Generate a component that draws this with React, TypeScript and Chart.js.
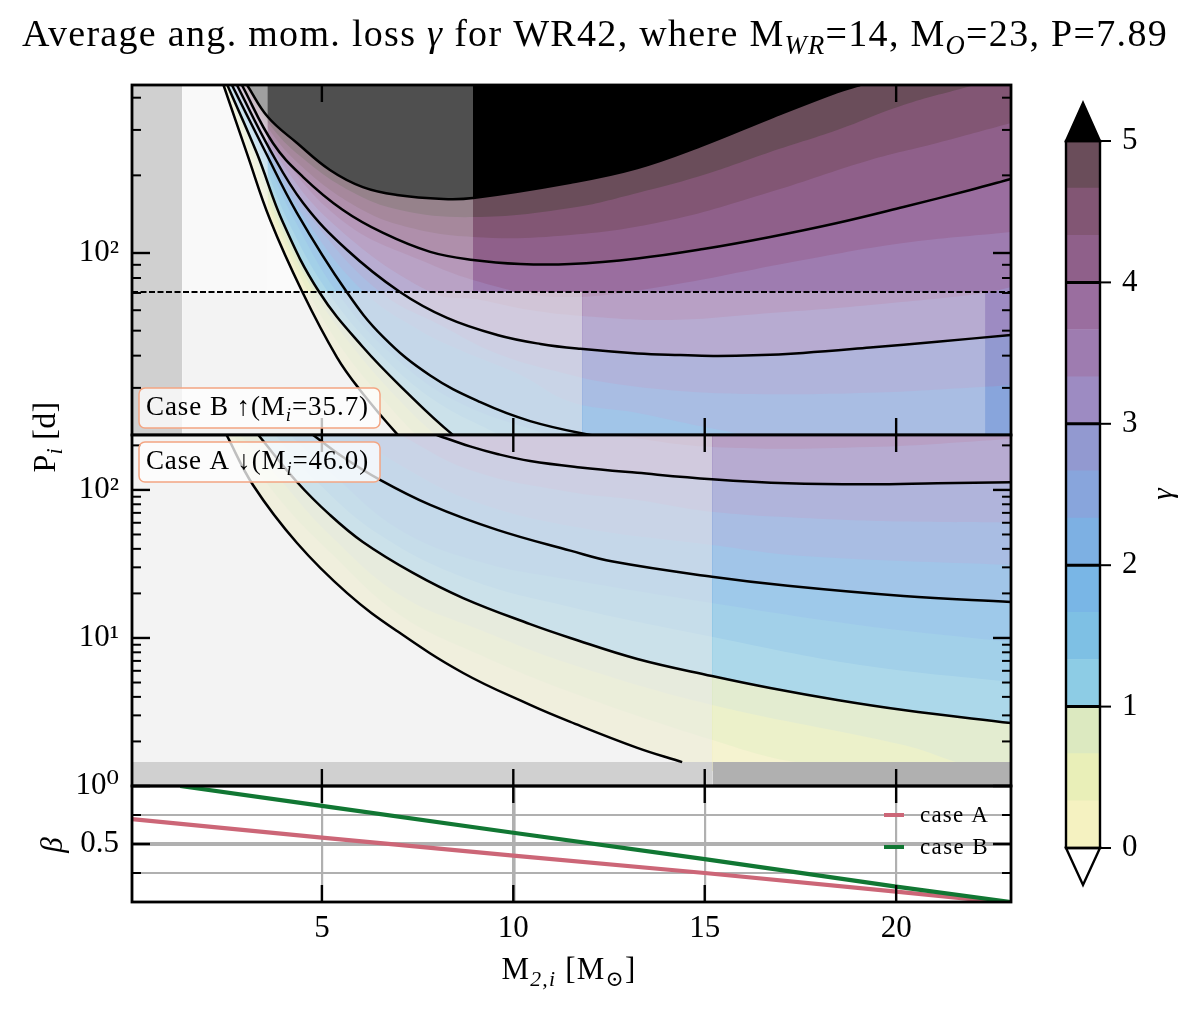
import React, { useEffect, useRef } from 'react';
import { Chart, registerables } from 'chart.js';

Chart.register(...registerables);

type Pt = number[];
type Seg = { t: string; i?: boolean; sub?: boolean };

const W = 1200;
const H = 1009;
const SERIF = '"Liberation Serif", "DejaVu Serif", serif';

const xMin = 0.04;
const xMax = 23;
const xMajor = [5, 10, 15, 20];

// top panel: [M2, P] along each gamma level, one level every third of a unit
const topL0: Pt[] = [[2.43, 448], [3.04, 244], [3.65, 134.2], [4.49, 70.6], [5.39, 39.5], [6.0, 29.4], [6.96, 19.9], [8.35, 12], [23, 3]];
const topL1: Pt[] = [[2.46, 448], [3.12, 244], [3.8, 130.7], [4.64, 70.6], [5.55, 42.1], [6.62, 26.9], [7.43, 19.9], [9, 12], [23, 3.5]];
const topL2: Pt[] = [[2.5, 448], [3.2, 244], [3.88, 130.7], [4.8, 70.6], [5.87, 42.1], [7.02, 26.9], [7.93, 19.9], [10, 11], [23, 4]];
const topL3: Pt[] = [[2.53, 448], [3.3, 244], [3.99, 130.7], [4.93, 70.6], [6.07, 43.2], [7.23, 28.7], [8.39, 19.9], [9.66, 14.4], [23, 5]];
const topL4: Pt[] = [[2.57, 448], [3.38, 244], [4.14, 130.7], [5.16, 70.6], [6.42, 42.1], [7.93, 26.9], [9.58, 19.9], [12, 13], [23, 6]];
const topL5: Pt[] = [[2.6, 448], [3.46, 244], [4.33, 130.7], [5.39, 70.6], [6.7, 42.1], [8.45, 26.9], [10.83, 19.9], [14, 14], [23, 8]];
const topL6: Pt[] = [[2.65, 448], [3.46, 257.6], [4.35, 142.9], [5.65, 70.6], [6.6, 47.3], [7.83, 33.5], [9.14, 26.4], [10.44, 22.3], [12.01, 19.7], [13.6, 18], [23, 12]];
const topL7: Pt[] = [[2.68, 448], [3.59, 244], [4.64, 130.7], [6.1, 70.6], [7.57, 50], [8.61, 42.1], [10.18, 33.7], [11.49, 26.5], [13.24, 24], [14.96, 21.2], [15.85, 19.9], [16.71, 18], [23, 15]];
const topL8: Pt[] = [[2.72, 448], [3.65, 244], [4.82, 130.7], [6.52, 70.6], [8.09, 52.6], [9.66, 40.3], [11.49, 33.7], [12.35, 31.6], [14.1, 29.4], [16.27, 28.4], [19.32, 28.7], [22.33, 30.3], [23, 30.8]];
const topL9: Pt[] = [[2.78, 448], [3.65, 250.7], [4.51, 156.3], [5.66, 102.7], [7.04, 70.6], [8.27, 56], [9.58, 48.1], [10.71, 44.4], [11.75, 42.5], [13.24, 40.8], [14.36, 40.2], [15.22, 39.9], [16.27, 40.1], [17.57, 41], [19.32, 43], [21.07, 45.3], [23, 48.1]];
const topL10: Pt[] = [[2.8, 448], [3.78, 244], [5.27, 130.7], [7.83, 70.6], [9.14, 65.8], [10.44, 60.1], [11.8, 57], [14.1, 55], [16.71, 58.5], [19.32, 62.9], [22.33, 70], [23, 73.8]];
const topL11: Pt[] = [[2.84, 448], [3.9, 244], [5.61, 130.7], [7.57, 93.9], [9.4, 75.2], [11.22, 67.5], [13.66, 73.2], [17.57, 93.9], [20.19, 109.3], [23, 120.6]];
const topL12: Pt[] = [[2.91, 448], [3.72, 267], [4.51, 197], [5.55, 146.8], [6.6, 119.6], [7.83, 101], [8.95, 93.9], [10.18, 90.6], [11.49, 90.6], [13.24, 95.2], [14.96, 103.6], [16.71, 115.4], [18.46, 130.7], [20.19, 150.8], [21.94, 175.5], [23, 193.6]];
const topL13: Pt[] = [[2.95, 448], [3.65, 297], [4.43, 219.4], [5.74, 156.3], [7.04, 128.4], [8.95, 115.4], [11.49, 117.4], [14.1, 134.2], [16.71, 172.3], [19.32, 229.4], [21.07, 267], [23, 319]];
const topL14: Pt[] = [[2.99, 448], [3.65, 313], [4.43, 237.7], [5.74, 173.9], [7.04, 146.8], [8.95, 137.8], [11.49, 149.4], [13.24, 170.9], [14.96, 200.6], [16.71, 246.4], [18.46, 299.7], [20.19, 374.7], [21.86, 440], [23, 490]];
const topL15: Pt[] = [[3.045, 448], [3.59, 336.6], [4.35, 267], [5.21, 209.8], [6.07, 180], [6.96, 167.8], [8.17, 162], [8.95, 163.4], [11.49, 187.3], [13.24, 213.5], [14.96, 262], [16.71, 333.6], [18.46, 420.7], [19.06, 448]];
const topLevels = [topL0, topL1, topL2, topL3, topL4, topL5, topL6, topL7, topL8, topL9, topL10, topL11, topL12, topL13, topL14, topL15];
const topContours = [topL0, topL3, topL6, topL9, topL12, topL15];
const splitPeriod = 70.6;

// middle panel, same idea
const midL0: Pt[] = [[2.51, 235], [3.2, 108], [4.35, 43.8], [5.66, 20.1], [6.96, 11.15], [8.69, 5.8], [10.44, 3.53], [11.49, 2.71], [13.24, 1.81], [14.41, 1.45]];
const midL0Tail: Pt[] = [[18, 0.8], [23, 0.5]];
const midL1: Pt[] = [[2.68, 235], [3.91, 85.6], [5.21, 38.1], [7.04, 14.3], [9.14, 7.67], [11.49, 4.32], [15.19, 2.05], [17.36, 1.45], [23, 1]];
const midL2: Pt[] = [[2.86, 235], [3.91, 116.9], [5.21, 49.6], [7.04, 19.5], [9.14, 11.3], [11.49, 6.67], [15.19, 3.53], [20.19, 1.89], [21.55, 1.45], [23, 1.1]];
const midL3: Pt[] = [[3.34, 235], [4.35, 113.2], [5.21, 67.8], [6.07, 44.5], [7.38, 27.5], [8.69, 18.6], [10.44, 12.4], [11.49, 10], [13.24, 7.21], [15.19, 5.53], [16.71, 4.59], [18.46, 3.81], [20.19, 3.26], [23, 2.66]];
const midL4: Pt[] = [[3.78, 235], [4.82, 116.9], [6.52, 49.6], [8.87, 24.7], [11.49, 16.2], [15.19, 10.2], [19.06, 6.57], [23, 5.04]];
const midL5: Pt[] = [[4.17, 235], [5.21, 132.3], [7.04, 53.7], [9.14, 32.6], [11.49, 24.7], [15.19, 17.2], [19.06, 12.2], [23, 9.4]];
const midL6: Pt[] = [[4.77, 235], [5.55, 167], [6.52, 116.9], [7.83, 79.2], [9.58, 53.7], [11.49, 38.9], [12.6, 32.8], [15.19, 25.9], [17.17, 22.5], [20.19, 19.2], [23, 17.5]];
const midL7: Pt[] = [[5.87, 235], [7.04, 147.6], [8.87, 85.6], [11.49, 57.1], [15.19, 42.5], [17.57, 35.8], [23, 31.1]];
const midL8: Pt[] = [[7.04, 235], [8.87, 136.5], [11.49, 96.9], [13.24, 85.6], [15.19, 71.3], [17.57, 64.7], [20.19, 61.1], [23, 60.1]];
const midL9: Pt[] = [[8.0, 235], [8.87, 196.8], [9.58, 175], [10.44, 157], [11.75, 142], [13.24, 130.4], [15.19, 118.1], [17.17, 110.9], [19.32, 109.2], [21.07, 110.9], [23, 112.7]];
const midL10: Pt[] = [[12.6, 235], [15.19, 195], [19.32, 195], [23, 221]];
const midLevels = [[...midL0, ...midL0Tail], midL1, midL2, midL3, midL4, midL5, midL6, midL7, midL8, midL9, midL10];
const midContours = [midL0, midL3, midL6, midL9];

// bottom panel
const caseA: Pt[] = [[0.04, 0.715], [5, 0.555], [10, 0.4], [15, 0.25], [20, 0.09], [22.7, 0]];
const caseB: Pt[] = [[1.3, 1], [5, 0.828], [10, 0.597], [15, 0.37], [20, 0.132], [23, 0]];

// colorbar
const gammaLevels = [0, 0.333, 0.667, 1, 1.333, 1.667, 2, 2.333, 2.667, 3, 3.333, 3.667, 4, 4.333, 4.667, 5];
const gammaTicks = [0, 1, 2, 3, 4, 5];
const gammaLines = [1, 2, 3, 4];
const bandColors = ['#f5f2c1', '#e9efb8', '#dce9c0', '#8dcce5', '#7ec0e4', '#79b6e6', '#7db0e3', '#88a5dc', '#9299d0', '#9d8bc2', '#9e7cb0', '#9a6e9f', '#8f608a', '#825674', '#6a4d5a', '#000000'];

// translucent/grey boxes [x0, x1, Pbottom, Ptop, colour]
const topShades: [number, number, number, number, string][] = [
  [xMin, 1.35, 19.7, 448, '#d0d0d0'],
  [1.35, 3.59, 70.6, 448, 'rgba(246,246,246,0.65)'],
  [3.59, 8.95, 70.6, 448, 'rgba(240,240,240,0.33)'],
  [1.35, 11.8, 19.7, 70.6, 'rgba(237,237,237,0.65)'],
  [11.8, 22.33, 19.7, 70.6, 'rgba(245,245,245,0.3)'],
];
const midShades: [number, number, number, number, string][] = [
  [xMin, 15.2, 1, 235, 'rgba(237,237,237,0.65)'],
  [15.2, 23, 1, 235, 'rgba(245,245,245,0.3)'],
  [xMin, 15.2, 1, 1.45, '#d0d0d0'],
  [15.2, 23, 1, 1.45, '#b0b0b0'],
];

const topMinor = [30, 40, 50, 60, 70, 80, 90, 200, 300, 400];
const midMinor = [2, 3, 4, 5, 6, 7, 8, 9, 20, 30, 40, 50, 60, 70, 80, 90, 200];
const powerLabels: Record<number, string> = { 1: '10⁰', 10: '10¹', 100: '10²' };

const toXY = (pts: Pt[]) => pts.map(([x, y]) => ({ x, y }));

function drawRich(ctx: CanvasRenderingContext2D, segs: Seg[], x: number, y: number, size: number, opt: { width?: number; rotate?: number; center?: boolean } = {}) {
  const fontOf = (s: Seg) => `${s.i ? 'italic ' : ''}${s.sub ? size * 0.7 : size}px ${SERIF}`;
  ctx.save();
  ctx.translate(x, y);
  if (opt.rotate) ctx.rotate(opt.rotate);
  ctx.fillStyle = '#000';
  ctx.textAlign = 'left';
  ctx.textBaseline = 'alphabetic';
  let natural = 0;
  let chars = 0;
  segs.forEach((s) => {
    ctx.font = fontOf(s);
    natural += ctx.measureText(s.t).width;
    chars += s.t.length;
  });
  const gap = opt.width ? (opt.width - natural) / chars : 0;
  (ctx as any).letterSpacing = `${gap}px`;
  const total = natural + gap * chars;
  let cur = opt.center ? -total / 2 : 0;
  segs.forEach((s) => {
    ctx.font = fontOf(s);
    ctx.fillText(s.t, cur, s.sub ? size * 0.22 : 0);
    cur += ctx.measureText(s.t).width;
  });
  ctx.restore();
}

const contourBase = { pointRadius: 0, tension: 0.4, capBezierPoints: false };

function contourDatasets(levels: Pt[][], contours: Pt[][], shades: [number, number, number, number, string][]) {
  // Chart.js puts lower order on top, so count down as we stack things up
  let order = 1000;
  const sets: any[] = [];
  levels.forEach((pts, k) => {
    sets.push({ ...contourBase, data: toXY(pts), borderWidth: 0, fill: 'end', backgroundColor: bandColors[k], order: order-- });
  });
  shades.forEach(([x0, x1, lo, hi, color]) => {
    sets.push({ data: [{ x: x0, y: hi }, { x: x1, y: hi }], pointRadius: 0, borderWidth: 0, fill: { value: lo }, backgroundColor: color, order: order-- });
  });
  contours.forEach((pts) => {
    sets.push({ ...contourBase, data: toXY(pts), borderColor: '#000', borderWidth: 2.5, fill: false, order: order-- });
  });
  return sets;
}

function drawTicks(chart: any, yMajor: number[], yMinor: number[]) {
  const { ctx, chartArea: a, scales } = chart;
  ctx.save();
  ctx.strokeStyle = '#000';
  const line = (x0: number, y0: number, x1: number, y1: number, w: number) => {
    ctx.lineWidth = w;
    ctx.beginPath();
    ctx.moveTo(x0, y0);
    ctx.lineTo(x1, y1);
    ctx.stroke();
  };
  xMajor.forEach((v) => {
    const px = scales.x.getPixelForValue(v);
    line(px, a.top, px, a.top + 17, 2.4);
    line(px, a.bottom, px, a.bottom - 17, 2.4);
  });
  yMajor.forEach((v) => {
    const py = scales.y.getPixelForValue(v);
    line(a.left, py, a.left + 18, py, 2.4);
    line(a.right, py, a.right - 18, py, 2.4);
  });
  yMinor.forEach((v) => {
    const py = scales.y.getPixelForValue(v);
    line(a.left, py, a.left + 9, py, 2);
    line(a.right, py, a.right - 9, py, 2);
  });
  ctx.restore();
}

function drawNote(chart: any, segs: Seg[], top: number, textWidth: number) {
  const { ctx, chartArea: a } = chart;
  const bx = a.left + 7;
  ctx.save();
  ctx.beginPath();
  ctx.roundRect(bx, top, 241, 40, 6);
  ctx.fillStyle = 'rgba(255,255,255,0.75)';
  ctx.fill();
  ctx.strokeStyle = '#f4a582';
  ctx.lineWidth = 1.5;
  ctx.stroke();
  ctx.restore();
  drawRich(ctx, segs, bx + 7, top + 27, 27, { width: textWidth });
}

function drawFrame(chart: any) {
  const { ctx, chartArea: a } = chart;
  ctx.save();
  ctx.strokeStyle = '#000';
  ctx.lineWidth = 2.8;
  ctx.strokeRect(a.left, a.top, a.right - a.left, a.bottom - a.top);
  ctx.restore();
}

const hiddenX = { type: 'linear' as const, display: false, min: xMin, max: xMax };

function logAxis(min: number, max: number, major: number[]) {
  return {
    type: 'logarithmic' as const,
    min,
    max,
    grid: { display: false, drawTicks: false },
    border: { display: false },
    afterBuildTicks: (s: any) => { s.ticks = major.map((value) => ({ value })); },
    afterFit: (s: any) => { s.width = 60; },
    ticks: { autoSkip: false, padding: 13, font: { size: 31 }, callback: (v: any) => powerLabels[v] ?? '' },
  };
}

const baseOptions = {
  responsive: false,
  animation: false as const,
  events: [] as any[],
};
const noPlugins = { legend: { display: false }, tooltip: { enabled: false }, title: { display: false } };

const topConfig: any = {
  type: 'line',
  data: {
    datasets: [
      ...contourDatasets(topLevels, topContours, topShades),
      { data: [{ x: xMin, y: splitPeriod }, { x: xMax, y: splitPeriod }], borderColor: '#000', borderWidth: 2, borderDash: [6, 2.5], pointRadius: 0, fill: false, order: 1 },
    ],
  },
  options: {
    ...baseOptions,
    layout: { padding: { left: 72, top: 85, right: W - 1011, bottom: H - 435 } },
    plugins: noPlugins,
    scales: { x: hiddenX, y: logAxis(19.7, 448, [100]) },
  },
  plugins: [{
    id: 'topDecor',
    afterDatasetsDraw(chart: any) {
      drawTicks(chart, [100], topMinor);
      drawNote(chart, [{ t: 'Case B ↑(M' }, { t: 'i', i: true, sub: true }, { t: '=35.7)' }], 388, 223);
      drawFrame(chart);
      drawRich(chart.ctx, [
        { t: 'Average ang. mom. loss ' }, { t: 'γ', i: true }, { t: ' for WR42, where M' }, { t: 'WR', i: true, sub: true },
        { t: '=14, M' }, { t: 'O', i: true, sub: true }, { t: '=23, P=7.89' },
      ], 22, 46, 38, { width: 1146 });
      drawRich(chart.ctx, [{ t: 'P' }, { t: 'i', i: true, sub: true }, { t: ' [d]' }], 55, 437, 32, { rotate: -Math.PI / 2, center: true, width: 71 });
    },
  }],
};

const midConfig: any = {
  type: 'line',
  data: { datasets: contourDatasets(midLevels, midContours, midShades) },
  options: {
    ...baseOptions,
    layout: { padding: { left: 72, top: 435, right: W - 1011, bottom: H - 786 } },
    plugins: noPlugins,
    scales: { x: hiddenX, y: logAxis(1, 235, [1, 10, 100]) },
  },
  plugins: [{
    id: 'midDecor',
    afterDatasetsDraw(chart: any) {
      drawTicks(chart, [1, 10, 100], midMinor);
      drawNote(chart, [{ t: 'Case A ↓(M' }, { t: 'i', i: true, sub: true }, { t: '=46.0)' }], 442, 223);
      drawFrame(chart);
    },
  }],
};

const GRID_GREY = '#b0b0b0';
const betaMajor = [0.25, 0.5, 0.75];

const betaConfig: any = {
  type: 'line',
  data: {
    datasets: [
      { label: 'case A', data: toXY(caseA), borderColor: '#cc6677', borderWidth: 4.2, pointRadius: 0, fill: false, order: 2 },
      { label: 'case B', data: toXY(caseB), borderColor: '#117733', borderWidth: 4.2, pointRadius: 0, fill: false, order: 1 },
    ],
  },
  options: {
    ...baseOptions,
    layout: { padding: { left: 72, top: 786, right: W - 1011, bottom: H - 902 - 60 } },
    plugins: noPlugins,
    scales: {
      x: {
        type: 'linear',
        min: xMin,
        max: xMax,
        grid: { drawTicks: false, color: GRID_GREY, lineWidth: (c: any) => (c.tick?.value === 10 ? 3.6 : 2.2) },
        border: { display: false },
        afterBuildTicks: (s: any) => { s.ticks = xMajor.map((value) => ({ value })); },
        afterFit: (s: any) => { s.height = 60; },
        ticks: { autoSkip: false, maxRotation: 0, padding: 8, font: { size: 31 }, color: '#000' },
      },
      y: {
        min: 0,
        max: 1,
        grid: { drawTicks: false, color: GRID_GREY, lineWidth: (c: any) => (c.tick?.value === 0.5 ? 4 : 2) },
        border: { display: false },
        afterBuildTicks: (s: any) => { s.ticks = betaMajor.map((value) => ({ value })); },
        afterFit: (s: any) => { s.width = 60; },
        ticks: { autoSkip: false, padding: 13, font: { size: 31 }, color: '#000', callback: (v: any) => (v === 0.5 ? '0.5' : '') },
      },
    },
  },
  plugins: [{
    id: 'betaDecor',
    afterDatasetsDraw(chart: any) {
      const { ctx, chartArea: a } = chart;
      drawTicks(chart, [0.5], [0.25, 0.75]);
      chart.data.datasets.forEach((ds: any, i: number) => {
        const ly = a.top + 29 + i * 32;
        ctx.save();
        ctx.strokeStyle = ds.borderColor;
        ctx.lineWidth = 4;
        ctx.beginPath();
        ctx.moveTo(a.right - 127, ly);
        ctx.lineTo(a.right - 107, ly);
        ctx.stroke();
        ctx.restore();
        drawRich(ctx, [{ t: ds.label }], a.right - 91, ly + 7, 23, { width: 69 });
      });
      drawFrame(chart);
      drawRich(ctx, [{ t: 'β', i: true }], 62, 845, 31, { rotate: -Math.PI / 2, center: true });
      drawRich(ctx, [{ t: 'M' }, { t: '2,i', i: true, sub: true }, { t: ' [M' }, { t: '⊙', sub: true }, { t: ']' }], 569, 979, 31, { center: true, width: 135 });
    },
  }],
};

const barConfig: any = {
  type: 'bar',
  data: {
    labels: [''],
    datasets: bandColors.slice(0, 15).map((color, k) => ({
      data: [[gammaLevels[k], gammaLevels[k + 1]]],
      backgroundColor: color,
      borderWidth: 0,
      barPercentage: 1,
      categoryPercentage: 1,
      grouped: false,
    })),
  },
  options: {
    ...baseOptions,
    layout: { padding: { left: 1066, top: 141, right: W - 1100 - 40, bottom: H - 848 } },
    plugins: noPlugins,
    scales: {
      x: { display: false },
      y: {
        position: 'right',
        min: 0,
        max: 5,
        grid: { display: false, drawTicks: false },
        border: { display: false },
        afterBuildTicks: (s: any) => { s.ticks = gammaTicks.map((value) => ({ value })); },
        afterFit: (s: any) => { s.width = 40; },
        ticks: { autoSkip: false, padding: 22, font: { size: 31 }, color: '#000' },
      },
    },
  },
  plugins: [{
    id: 'barDecor',
    afterDatasetsDraw(chart: any) {
      const { ctx, chartArea: a, scales } = chart;
      const mid = (a.left + a.right) / 2;
      ctx.save();
      ctx.strokeStyle = '#000';
      ctx.lineJoin = 'miter';
      ctx.lineWidth = 2.4;
      ctx.beginPath();
      ctx.moveTo(a.left, a.top);
      ctx.lineTo(mid, a.top - 38);
      ctx.lineTo(a.right, a.top);
      ctx.closePath();
      ctx.fillStyle = '#000';
      ctx.fill();
      ctx.stroke();
      ctx.beginPath();
      ctx.moveTo(a.left, a.bottom);
      ctx.lineTo(mid, a.bottom + 37);
      ctx.lineTo(a.right, a.bottom);
      ctx.closePath();
      ctx.fillStyle = '#fff';
      ctx.fill();
      ctx.stroke();
      ctx.strokeRect(a.left, a.top, a.right - a.left, a.bottom - a.top);
      gammaLines.forEach((v) => {
        const py = scales.y.getPixelForValue(v);
        ctx.lineWidth = 3;
        ctx.beginPath();
        ctx.moveTo(a.left, py);
        ctx.lineTo(a.right, py);
        ctx.stroke();
      });
      gammaTicks.forEach((v) => {
        const py = scales.y.getPixelForValue(v);
        ctx.lineWidth = 2;
        ctx.beginPath();
        ctx.moveTo(a.right, py);
        ctx.lineTo(a.right + 11, py);
        ctx.stroke();
      });
      ctx.restore();
      drawRich(ctx, [{ t: 'γ', i: true }], 1172, 494, 29, { rotate: -Math.PI / 2, center: true });
    },
  }],
};

function Panel({ config }: { config: any }) {
  const ref = useRef<HTMLCanvasElement>(null);

  useEffect(() => {
    if (!ref.current) return;
    const chart = new Chart(ref.current, config);
    return () => chart.destroy();
  }, [config]);

  return <canvas ref={ref} width={W} height={H} style={{ position: 'absolute', left: 0, top: 0, width: W, height: H }} />;
}

export default function App() {
  Chart.defaults.font.family = SERIF;
  Chart.defaults.color = '#000';
  return (
    <div style={{ position: 'absolute', left: 0, top: 0, width: W, height: H, background: '#fff', overflow: 'hidden' }}>
      <Panel config={topConfig} />
      <Panel config={midConfig} />
      <Panel config={betaConfig} />
      <Panel config={barConfig} />
    </div>
  );
}
